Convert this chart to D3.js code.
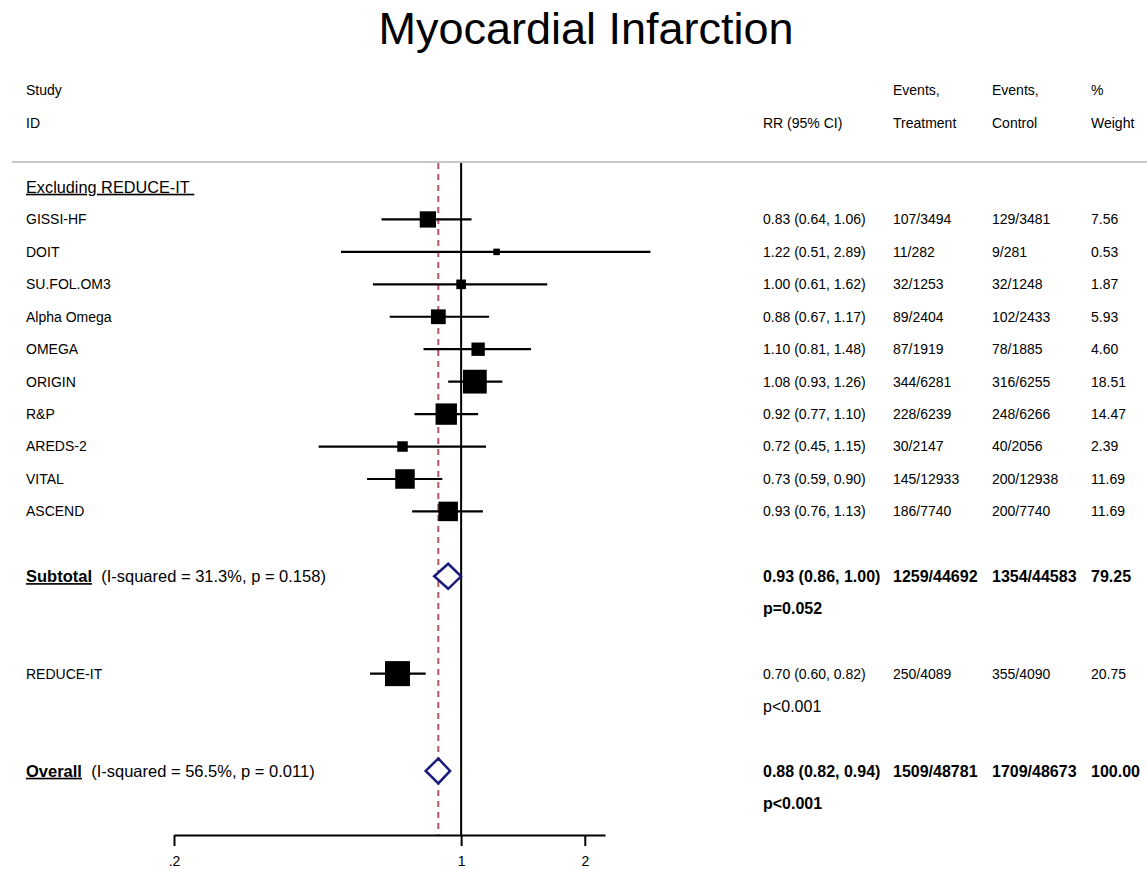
<!doctype html>
<html lang="en">
<head>
<meta charset="utf-8">
<title>Myocardial Infarction</title>
<script src="https://cdn.jsdelivr.net/npm/d3@7"></script>
<style>
  body { margin: 0; background: #fff; }
  svg { font-family: "Liberation Sans", Arial, sans-serif; }
  .axis path, .axis line { stroke: #000; stroke-width: 2; }
  .axis text { font-size: 14px; fill: #000; }
</style>
</head>
<body>
<svg id="chart" width="1147" height="869"></svg>
<script>
// study level data
var studies = ["GISSI-HF", "DOIT", "SU.FOL.OM3", "Alpha Omega", "OMEGA", "ORIGIN", "R&P", "AREDS-2", "VITAL", "ASCEND"];
var rr     = [0.83, 1.22, 1.00, 0.88, 1.10, 1.08, 0.92, 0.72, 0.73, 0.93];
var lo     = [0.64, 0.51, 0.61, 0.67, 0.81, 0.93, 0.77, 0.45, 0.59, 0.76];
var hi     = [1.06, 2.89, 1.62, 1.17, 1.48, 1.26, 1.10, 1.15, 0.90, 1.13];
var eventsT = ["107/3494", "11/282", "32/1253", "89/2404", "87/1919", "344/6281", "228/6239", "30/2147", "145/12933", "186/7740"];
var eventsC = ["129/3481", "9/281", "32/1248", "102/2433", "78/1885", "316/6255", "248/6266", "40/2056", "200/12938", "200/7740"];
var weights = [7.56, 0.53, 1.87, 5.93, 4.60, 18.51, 14.47, 2.39, 11.69, 11.69];

// REDUCE-IT
var reduce = { name: "REDUCE-IT", rr: 0.70, lo: 0.60, hi: 0.82, evT: "250/4089", evC: "355/4090", w: 20.75, p: "p<0.001" };

// pooled estimates
var subtotal = { rr: 0.93, lo: 0.86, hi: 1.00, evT: "1259/44692", evC: "1354/44583", w: 79.25, i2: "31.3%", phet: "0.158", p: "p=0.052" };
var overall  = { rr: 0.88, lo: 0.82, hi: 0.94, evT: "1509/48781", evC: "1709/48673", w: 100.00, i2: "56.5%", phet: "0.011", p: "p<0.001" };

var tickVals = [0.2, 1, 2];
var tickLabels = [".2", "1", "2"];

var svg = d3.select("#chart");
var f2 = d3.format(".2f");

var x = d3.scaleLog().domain([0.2, 2.24]).range([174, 605]);
var y = d3.scaleLinear().domain([0, 19]).range([187, 803.4]);
var box = d3.scaleSqrt().domain([0, 20.75]).range([3, 25]);

var colRR = 763, colT = 893, colC = 992, colW = 1091;
var plotTop = 163, axisY = 835;

// title
svg.append("text").attr("x", 586).attr("y", 44).attr("text-anchor", "middle")
  .style("font-size", "45px").text("Myocardial Infarction");

// header
function txt(xp, yp, s, size, bold) {
  return svg.append("text").attr("x", xp).attr("y", yp).attr("dy", "0.35em")
    .style("font-size", (size || 14) + "px")
    .style("font-weight", bold ? "bold" : "normal")
    .text(s);
}
txt(26, 90, "Study");
txt(26, 123, "ID");
txt(colRR, 123, "RR (95% CI)");
txt(colT, 90, "Events,");
txt(colT, 123, "Treatment");
txt(colC, 90, "Events,");
txt(colC, 123, "Control");
txt(colW, 90, "%");
txt(colW, 123, "Weight");

svg.append("line").attr("x1", 12).attr("x2", 1147).attr("y1", 162).attr("y2", 162)
  .attr("stroke", "#c8c8c8").attr("stroke-width", 2);

// reference lines
svg.append("line").attr("x1", x(1)).attr("x2", x(1)).attr("y1", plotTop).attr("y2", axisY)
  .attr("stroke", "#000").attr("stroke-width", 2);
svg.append("line").attr("x1", x(overall.rr)).attr("x2", x(overall.rr)).attr("y1", plotTop).attr("y2", axisY)
  .attr("stroke", "#b3585c").attr("stroke-width", 2).attr("stroke-dasharray", "6,5");

// group heading
txt(26, y(0), "Excluding REDUCE-IT\u00a0", 16.3).style("text-decoration", "underline");

// studies
var rows = studies.map(function(s, i) {
  return { name: s, rr: rr[i], lo: lo[i], hi: hi[i], evT: eventsT[i], evC: eventsC[i], w: weights[i], row: i + 1 };
});
reduce.row = 15;
rows.push(reduce);

var g = svg.append("g");
rows.forEach(function(d) {
  var yy = y(d.row);
  g.append("line").attr("x1", x(d.lo)).attr("x2", x(d.hi)).attr("y1", yy).attr("y2", yy)
    .attr("stroke", "#000").attr("stroke-width", 2.2);
  var s = box(d.w);
  g.append("rect").attr("x", x(d.rr) - s / 2).attr("y", yy - s / 2)
    .attr("width", s).attr("height", s).attr("fill", "#000");
  txt(26, yy, d.name);
  txt(colRR, yy, f2(d.rr) + " (" + f2(d.lo) + ", " + f2(d.hi) + ")");
  txt(colT, yy, d.evT);
  txt(colC, yy, d.evC);
  txt(colW, yy, f2(d.w));
});
txt(colRR, y(16), reduce.p, 16);

// pooled rows
subtotal.row = 12; subtotal.label = "Subtotal";
overall.row = 18; overall.label = "Overall";
[subtotal, overall].forEach(function(d) {
  var yy = y(d.row);
  var pts = [[x(d.lo), yy], [x(d.rr), yy - 12.5], [x(d.hi), yy], [x(d.rr), yy + 12.5]];
  svg.append("path").attr("d", "M" + pts.join("L") + "Z")
    .attr("fill", "#fff").attr("stroke", "#1a1a7e").attr("stroke-width", 2.5);
  var t = svg.append("text").attr("x", 26).attr("y", yy).attr("dy", "0.35em")
    .style("font-size", "16.5px").attr("xml:space", "preserve");
  t.append("tspan").style("font-weight", "bold").style("text-decoration", "underline").text(d.label);
  t.append("tspan").text("  (I-squared = " + d.i2 + ", p = " + d.phet + ")");
  txt(colRR, yy, f2(d.rr) + " (" + f2(d.lo) + ", " + f2(d.hi) + ")", 16, true);
  txt(colT, yy, d.evT, 16, true);
  txt(colC, yy, d.evC, 16, true);
  txt(colW, yy, f2(d.w), 16, true);
  txt(colRR, y(d.row + 1), d.p, 16, true);
});

// axis
var axis = d3.axisBottom(x).tickValues(tickVals)
  .tickFormat(function(d, i) { return tickLabels[i]; })
  .tickSize(11).tickSizeOuter(0).tickPadding(10);
svg.append("g").attr("class", "axis").attr("transform", "translate(0," + axisY + ")").call(axis);
</script>
</body>
</html>
